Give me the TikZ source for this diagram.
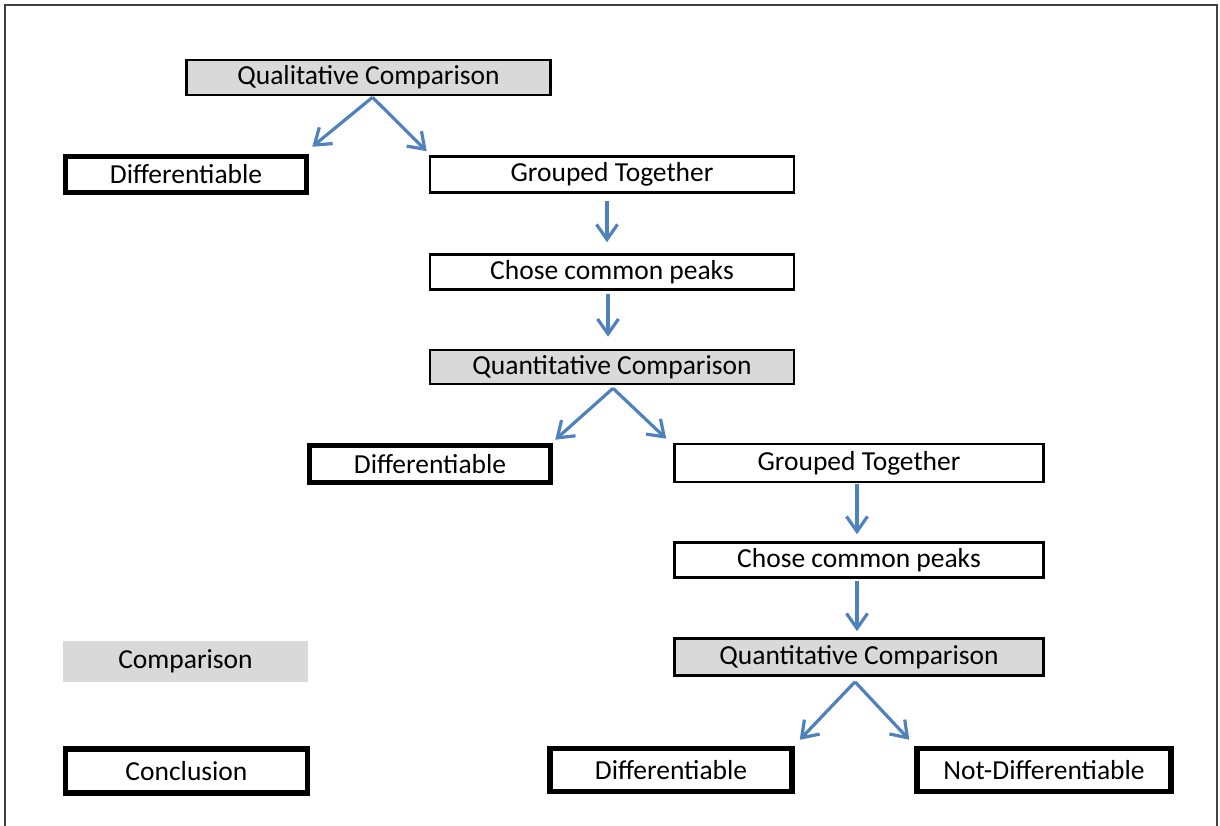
\documentclass[tikz,border=0pt]{standalone}
\usepackage{fontspec}
\setmainfont{Carlito}
\usetikzlibrary{arrows.meta}
\definecolor{arrowblue}{HTML}{4F81BD}
\definecolor{boxgray}{HTML}{D9D9D9}
\begin{document}
\begin{tikzpicture}[x=1pt,y=-1pt,
  basebox/.style={rectangle, inner sep=0pt, font=\fontsize{27.5}{30}\selectfont, text=black},
  thinbox/.style={basebox, draw=black, line width=2.6pt, fill=white},
  graybox/.style={basebox, draw=black, line width=2.6pt, fill=boxgray},
  thickbox/.style={basebox, draw=black, line width=5.5pt, fill=white},
  legendgray/.style={basebox, fill=boxgray},
  flow/.style={draw=arrowblue, line width=3.2pt, -{Straight Barb[length=15pt,width=21pt,line width=3.2pt]}}
]
\useasboundingbox (0,0) rectangle (1220,825);
\fill[white] (0,0) rectangle (1220,825);
\draw[line width=2pt, draw=black!75] (5,840) -- (5,5) -- (1217,5) -- (1217,840);

% level 1
\node[graybox, minimum width=364pt, minimum height=35pt] (qual) at (368.5,77.5) {Qualitative Comparison};
\node[thickbox, minimum width=241pt, minimum height=36pt] (diffa) at (186,174.5) {Differentiable};
\node[thinbox, minimum width=364pt, minimum height=36pt] (grpa) at (612,174.5) {Grouped Together};
\node[thinbox, minimum width=364pt, minimum height=35pt] (chosea) at (612,272) {Chose common peaks};
\node[graybox, minimum width=364pt, minimum height=34pt] (quanta) at (612,367) {Quantitative Comparison};

% level 2
\node[thickbox, minimum width=241pt, minimum height=37pt] (diffb) at (430,464) {Differentiable};
\node[thinbox, minimum width=369pt, minimum height=38pt] (grpb) at (859,463) {Grouped Together};
\node[thinbox, minimum width=369pt, minimum height=35pt] (choseb) at (859,560) {Chose common peaks};
\node[graybox, minimum width=369pt, minimum height=37pt] (quantb) at (859,657) {Quantitative Comparison};

% level 3
\node[thickbox, minimum width=242pt, minimum height=43pt] (diffc) at (671,770) {Differentiable};
\node[thickbox, minimum width=254pt, minimum height=43pt] (notdiff) at (1044,770) {Not-Differentiable};

% legend
\node[legendgray, minimum width=245pt, minimum height=41pt] (legcomp) at (185.5,661.5) {Comparison};
\node[thickbox, minimum width=242pt, minimum height=44pt] (legconc) at (186.5,771) {Conclusion};

% connectors
\coordinate (qs) at ([xshift=4pt,yshift=-1pt]qual.south);
\draw[flow] (qs) -- ([xshift=3pt,yshift=7pt]diffa.north east);
\draw[flow] (qs) -- ([xshift=-2pt,yshift=4pt]grpa.north west);
\draw[flow] ([xshift=-5pt,yshift=-7pt]grpa.south) -- ([xshift=-5pt,yshift=11pt]chosea.north);
\draw[flow] ([xshift=-4pt,yshift=-3pt]chosea.south) -- ([xshift=-4pt,yshift=12pt]quanta.north);
\coordinate (q1s) at ([xshift=1pt,yshift=-3pt]quanta.south);
\draw[flow] (q1s) -- ([xshift=2pt,yshift=3pt]diffb.north east);
\draw[flow] (q1s) -- ([xshift=-7pt,yshift=4pt]grpb.north west);
\draw[flow] ([xshift=-2pt,yshift=-1pt]grpb.south) -- ([xshift=-2pt,yshift=7pt]choseb.north);
\draw[flow] ([xshift=-2pt,yshift=-2pt]choseb.south) -- ([xshift=-2pt,yshift=6pt]quantb.north);
\coordinate (q2s) at ([xshift=-4pt,yshift=-5pt]quantb.south);
\draw[flow] (q2s) -- ([xshift=5pt,yshift=6pt]diffc.north east);
\draw[flow] (q2s) -- ([xshift=-5pt,yshift=6pt]notdiff.north west);
\end{tikzpicture}
\end{document}
